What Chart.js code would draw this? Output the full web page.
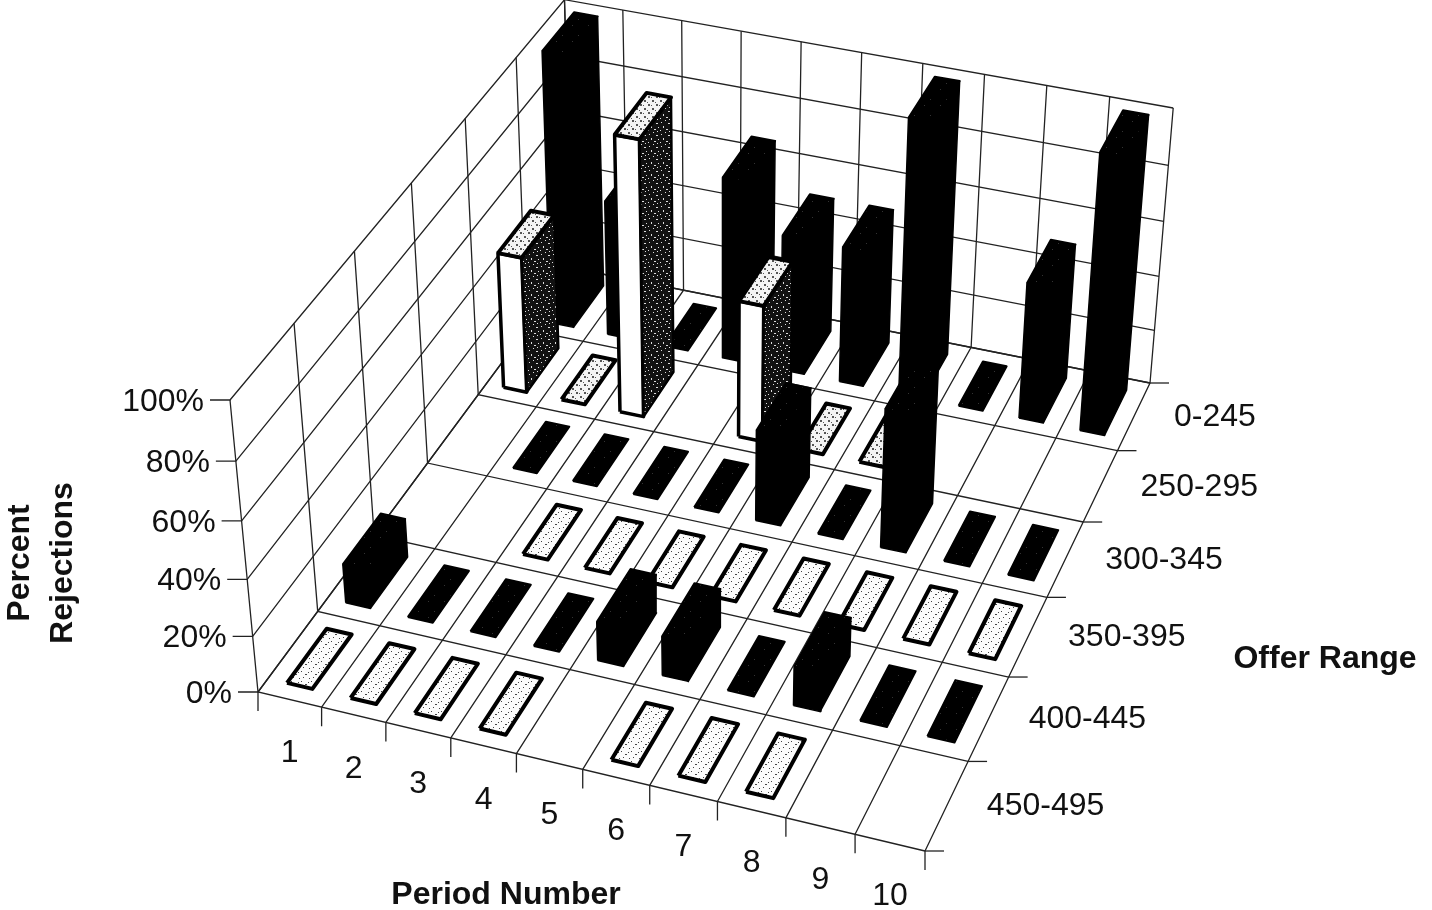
<!DOCTYPE html>
<html>
<head>
<meta charset="utf-8">
<title>Percent Rejections</title>
<script src="https://cdn.jsdelivr.net/npm/chart.js@4"></script>
<style>
    html, body { margin: 0; padding: 0; background: #fff; }
    #wrap { width: 1432px; height: 910px; }
</style>
</head>
<body>
<div id="wrap"><canvas id="barChart" width="1432" height="910"></canvas></div>
<script>
const periods = ["1", "2", "3", "4", "5", "6", "7", "8", "9", "10"];
// front to back on the floor
const offerRanges = ["450-495", "400-445", "350-395", "300-345", "250-295", "0-245"];
const percentTicks = [0, 20, 40, 60, 80, 100];

// null = no bar drawn, 0 = flat bar
const range450 = [0, 0, 0, 0, null, 0, 0, 0, null, null];
const range400 = [14, 0, 0, 0, 14, 14, 0, 14, 0, 0];
const range350 = [null, null, 0, 0, 0, 0, 0, 0, 0, 0];
const range300 = [null, 0, 0, 0, 0, 33, 0, 50, 0, 0];
const range250 = [50, 0, 100, null, 50, 0, 0, null, null, null];
const range0 = [100, 50, 0, 67, 50, 50, 100, 0, 50, 100];
const seriesValues = [range450, range400, range350, range300, range250, range0];

// where the box of the 3D plot lands on the page
const floorFL = [258, 692], floorFR = [925, 851], floorBR = [1150, 383], floorBL = [572, 268];
const topFL = [230, 400], topBRy = 108;

const nU = periods.length, nV = offerRanges.length;

// floor homography (unit square to the four corners)
const dx1 = floorFR[0] - floorBR[0], dx2 = floorBL[0] - floorBR[0], dx3 = floorFL[0] - floorFR[0] + floorBR[0] - floorBL[0];
const dy1 = floorFR[1] - floorBR[1], dy2 = floorBL[1] - floorBR[1], dy3 = floorFL[1] - floorFR[1] + floorBR[1] - floorBL[1];
const den = dx1 * dy2 - dx2 * dy1;
const g = (dx3 * dy2 - dx2 * dy3) / den, h = (dx1 * dy3 - dx3 * dy1) / den;
const a = floorFR[0] - floorFL[0] + g * floorFR[0], b = floorBL[0] - floorFL[0] + h * floorBL[0], c = floorFL[0];
const d = floorFR[1] - floorFL[1] + g * floorFR[1], e = floorBL[1] - floorFL[1] + h * floorBL[1], f = floorFL[1];
// vertical column of the camera
const r = (topBRy * (g + h + 1) - d - e - topFL[1]) / (topFL[1] - topBRy);
const p = topFL[0] * (1 + r) - c, q = topFL[1] * (1 + r) - f;

function project(u, v, pct) {
    const uu = u / nU, vv = v / nV, w = pct / 100;
    const div = g * uu + h * vv + 1 + r * w;
    return { x: (a * uu + b * vv + c + p * w) / div, y: (d * uu + e * vv + f + q * w) / div };
}

function makePattern(bg, dots, color, size) {
    const cv = document.createElement("canvas");
    cv.width = size; cv.height = size;
    const cx = cv.getContext("2d");
    cx.fillStyle = bg;
    cx.fillRect(0, 0, size, size);
    cx.fillStyle = color;
    dots.forEach((dot) => cx.fillRect(dot[0], dot[1], dot[2], dot[3]));
    return cx.createPattern(cv, "repeat");
}

const lightTop = makePattern("#f4f4f4", [[0, 0, 2, 2], [4, 4, 2, 2], [3, 1, 1, 1], [7, 6, 1, 1]], "#555", 8);
const paleTop = makePattern("#fbfbfb", [[1, 1, 1, 1], [5, 4, 2, 1], [3, 7, 1, 1], [8, 2, 1, 1], [9, 8, 1, 1]], "#444", 10);
const darkSide = makePattern("#111", [[1, 2, 1, 1], [5, 0, 1, 1], [8, 3, 2, 1], [3, 6, 1, 2], [10, 7, 1, 1], [6, 9, 2, 1], [0, 10, 1, 1], [9, 11, 1, 1]], "#ddd", 12);
const blackTop = makePattern("#000", [[2, 3, 1, 1], [12, 9, 1, 1]], "#333", 16);

const datasets = [];

function addLine(points, width, color) {
    datasets.push({ data: points, showLine: true, fill: false, borderColor: color || "#222", borderWidth: width || 1.3, pointRadius: 0, clip: false });
}

function addFace(points, fillColor, width) {
    datasets.push({
        data: points.concat([points[0]]), showLine: true, fill: "shape", backgroundColor: fillColor,
        borderColor: "#000", borderWidth: width, borderJoinStyle: "round", pointRadius: 0, clip: false
    });
}

function nudge(pt, dx, dy) {
    return { x: pt.x + dx, y: pt.y + dy };
}

// walls and floor first
for (let i = 0; i <= nU; i++) {
    addLine([project(i, 0, 0), project(i, nV, 0), project(i, nV, 100)]);
    addLine([project(i, 0, 0), nudge(project(i, 0, 0), 0, 19)]);
}
for (let j = 0; j <= nV; j++) {
    addLine([project(nU, j, 0), project(0, j, 0), project(0, j, 100)]);
    addLine([project(nU, j, 0), nudge(project(nU, j, 0), 19, 0)]);
}
percentTicks.forEach((t) => {
    addLine([nudge(project(0, 0, t), -20, 0), project(0, 0, t), project(0, nV, t), project(nU, nV, t)]);
});

// painter order: back row first, left to right
for (let j = nV - 1; j >= 0; j--) {
    const light = j % 2 === 0;
    seriesValues[j].forEach((val, i) => {
        if (val === null) return;
        const u0 = i + 0.3, u1 = i + 0.7, v0 = j + 0.165, v1 = j + 0.835;
        if (val > 0) {
            addFace([project(u0, v0, 0), project(u1, v0, 0), project(u1, v0, val), project(u0, v0, val)], light ? "#fff" : "#000", light ? 3.5 : 1.5);
            addFace([project(u1, v0, 0), project(u1, v1, 0), project(u1, v1, val), project(u1, v0, val)], light ? darkSide : "#000", light ? 2.5 : 1.5);
        }
        addFace([project(u0, v0, val), project(u1, v0, val), project(u1, v1, val), project(u0, v1, val)], light ? (val > 0 || j === 4 ? lightTop : paleTop) : blackTop, light ? 4 : 2);
    });
}

const textPlugin = {
    id: "boxLabels",
    afterDraw(chart) {
        const ctx = chart.ctx;
        const sx = chart.scales.x, sy = chart.scales.y;
        ctx.save();
        ctx.fillStyle = "#111";
        ctx.textBaseline = "middle";
        ctx.font = "32px 'Liberation Sans'";

        ctx.textAlign = "right";
        percentTicks.forEach((t) => {
            const pt = project(0, 0, t);
            ctx.fillText(t + "%", sx.getPixelForValue(pt.x) - 26, sy.getPixelForValue(pt.y) + 2);
        });

        ctx.textAlign = "center";
        periods.forEach((name, i) => {
            const pt = project(i + 0.5, 0, 0);
            ctx.fillText(name, sx.getPixelForValue(pt.x), sy.getPixelForValue(pt.y) + 54);
        });

        ctx.textAlign = "left";
        offerRanges.forEach((name, j) => {
            const pt = project(nU, j + 0.5, 0);
            ctx.fillText(name, sx.getPixelForValue(pt.x) + 40, sy.getPixelForValue(pt.y) + 1);
        });

        ctx.font = "bold 32px 'Liberation Sans'";
        ctx.textAlign = "center";
        ctx.fillText("Period Number", 506, 895);
        ctx.fillText("Offer Range", 1325, 659);
        ctx.translate(36, 563);
        ctx.rotate(-Math.PI / 2);
        ctx.fillText("Percent", 0, -16);
        ctx.fillText("Rejections", 0, 27);
        ctx.restore();
    }
};

new Chart(document.getElementById("barChart"), {
    type: "scatter",
    data: { datasets: datasets.reverse() },
    options: {
        responsive: false,
        animation: false,
        events: [],
        layout: { padding: 0 },
        plugins: { legend: { display: false }, tooltip: { enabled: false } },
        scales: {
            x: { type: "linear", min: 0, max: 1432, display: false },
            y: { type: "linear", min: 0, max: 910, reverse: true, display: false }
        }
    },
    plugins: [textPlugin]
});
</script>
</body>
</html>
